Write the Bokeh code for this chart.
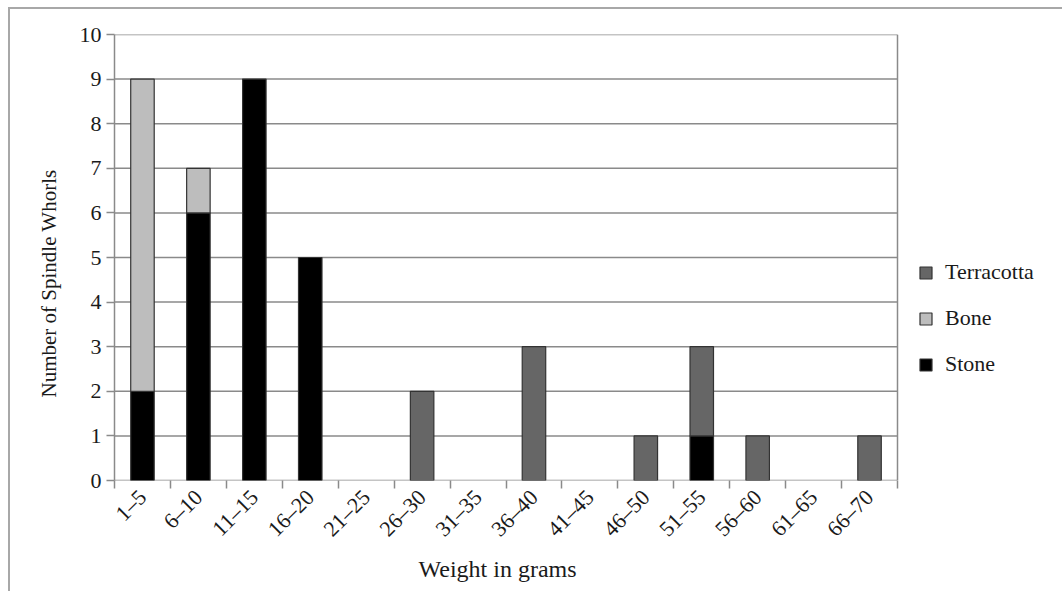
import math
from bokeh.plotting import figure
from bokeh.models import ColumnDataSource, FixedTicker, Legend, LegendItem, Range1d, Title
from bokeh.embed import file_html
from bokeh.resources import INLINE

# ---- data ----
categories = ["1–5", "6–10", "11–15", "16–20", "21–25", "26–30", "31–35",
              "36–40", "41–45", "46–50", "51–55", "56–60", "61–65", "66–70"]
stone = [2, 6, 9, 5, 0, 0, 0, 0, 0, 0, 1, 0, 0, 0]
bone = [7, 1, 0, 0, 0, 0, 0, 0, 0, 0, 0, 0, 0, 0]
terracotta = [0, 0, 0, 0, 0, 2, 0, 3, 0, 1, 2, 1, 0, 1]
series_names = ["Stone", "Bone", "Terracotta"]
series_values = [stone, bone, terracotta]
series_colors = ["#000000", "#bdbdbd", "#666666"]
y_ticks = list(range(0, 11))
y_max = 10
x_title = "Weight in grams"
y_title = "Number of Spindle Whorls"

FONT = "Liberation Serif"
TEXT = "#1a1a1a"
GRID = "#8a8a8a"

n = len(categories)
centers = [i + 0.5 for i in range(n)]

# plot area widened to the right so the legend can live inside the frame;
# the visible chart box covers categories 0..n only
x_extent = n * 950 / 783

p = figure(width=1054, height=584,
           x_range=Range1d(0, x_extent), y_range=Range1d(0, y_max),
           output_backend="svg", toolbar_location=None,
           min_border_left=104, min_border_right=0,
           min_border_top=25, min_border_bottom=113)
p.styles = {"border-left": "2px solid #a8a8a8", "border-top": "2px solid #a8a8a8",
            "margin-left": "8px", "margin-top": "7px"}
p.outline_line_color = None
p.xgrid.visible = False
p.ygrid.visible = False

# gridlines (incl. top edge and baseline) and right edge of the chart box
p.segment(x0=[0] * len(y_ticks), x1=[n] * len(y_ticks), y0=y_ticks, y1=y_ticks,
          line_color=GRID, line_width=1.5)
p.segment(x0=[n], x1=[n], y0=[0], y1=[y_max], line_color=GRID, line_width=1.5)

# stacked bars (skip zero segments)
bottoms = [0] * n
renderers = []
for name, vals, col in zip(series_names, series_values, series_colors):
    xs, b, t = [], [], []
    for i, v in enumerate(vals):
        if v > 0:
            xs.append(centers[i]); b.append(bottoms[i]); t.append(bottoms[i] + v)
        bottoms[i] += v
    src = ColumnDataSource(dict(x=xs, bottom=b, top=t))
    r = p.vbar(x="x", bottom="bottom", top="top", width=0.42, source=src,
               fill_color=col, line_color="#333333", line_width=1.2)
    renderers.append((name, r))

# axes
p.xaxis.ticker = FixedTicker(ticks=centers, minor_ticks=list(range(n + 1)))
p.xaxis.major_label_overrides = {c: lab for c, lab in zip(centers, categories)}
p.xaxis.major_label_orientation = math.pi / 4
p.xaxis.axis_line_color = None
p.xaxis.major_tick_out = 0
p.xaxis.major_tick_in = 0
p.xaxis.minor_tick_out = 8
p.xaxis.minor_tick_in = 0
p.xaxis.minor_tick_line_color = GRID
p.xaxis.major_label_standoff = 5
p.xaxis.major_label_text_font_size = "22px"

p.yaxis.ticker = FixedTicker(ticks=y_ticks)
p.yaxis.axis_line_color = GRID
p.yaxis.axis_line_width = 1.5
p.yaxis.major_tick_out = 8
p.yaxis.major_tick_in = 0
p.yaxis.minor_tick_line_color = None
p.yaxis.major_label_standoff = 5
p.yaxis.major_label_text_font_size = "22px"

for ax in (p.xaxis, p.yaxis):
    ax.major_tick_line_color = GRID
    ax.major_tick_line_width = 1.5
    ax.minor_tick_line_width = 1.5
    ax.major_label_text_font = FONT
    ax.major_label_text_color = TEXT

# axis titles (placed as titles so they can be offset like the reference)
xt = Title(text=x_title, align="left", offset=304, standoff=0,
           text_font=FONT, text_font_size="24px", text_font_style="normal",
           text_color=TEXT)
p.add_layout(xt, "below")
yt = Title(text=y_title, align="left", offset=83, standoff=31,
           text_font=FONT, text_font_size="21px", text_font_style="normal",
           text_color=TEXT)
p.add_layout(yt, "left")

# legend (top to bottom: Terracotta, Bone, Stone)
items = [LegendItem(label=name, renderers=[r]) for name, r in reversed(renderers)]
legend = Legend(items=items, location=(804, 103), padding=0, margin=0,
                border_line_color=None, background_fill_alpha=0,
                glyph_width=15, glyph_height=15, spacing=20,
                label_standoff=12, label_text_font=FONT,
                label_text_font_size="22px", label_text_color=TEXT)
p.add_layout(legend, "center")

open("out.html", "w").write(file_html(p, INLINE))
